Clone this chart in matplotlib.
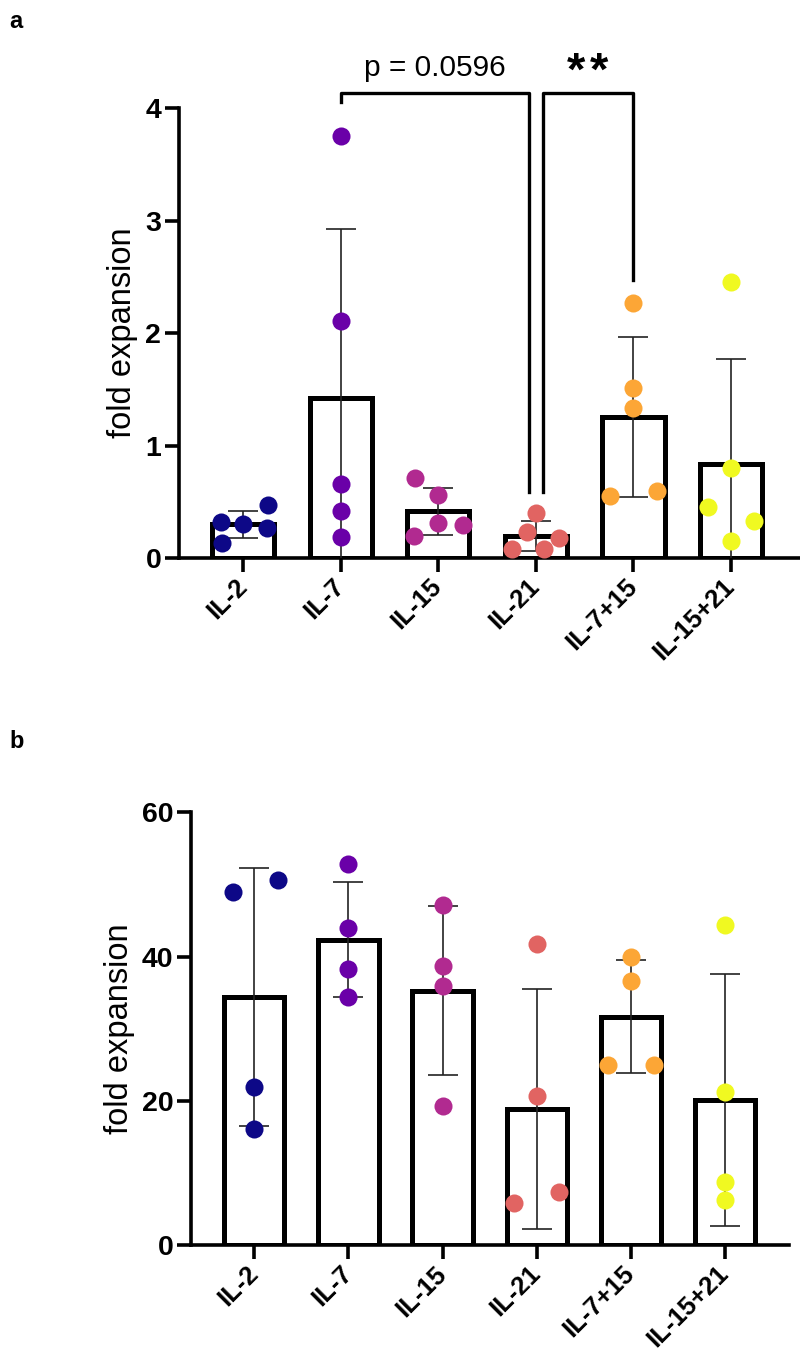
import numpy as np
import matplotlib
matplotlib.use("Agg")
import matplotlib.pyplot as plt

plt.rcParams['font.family'] = ['Liberation Sans', 'DejaVu Sans']

# categorias y colores
categorias = ['IL-2', 'IL-7', 'IL-15', 'IL-21', 'IL-7+15', 'IL-15+21']
colores = ['#0d0887', '#6a00a8', '#b12a90', '#e16462', '#fca636', '#f0f921']

# panel a: valores individuales y desplazamiento horizontal de cada punto
valores_a = [
    [0.32, 0.30, 0.47, 0.27, 0.13],
    [3.75, 2.11, 0.66, 0.42, 0.19],
    [0.71, 0.56, 0.31, 0.20, 0.29],
    [0.40, 0.23, 0.18, 0.08, 0.08],
    [2.27, 1.51, 1.33, 0.55, 0.60],
    [2.45, 0.80, 0.45, 0.33, 0.15],
]
jitter_a = [
    [-0.23, 0, 0.25, 0.24, -0.22],
    [0, 0, 0, 0, 0],
    [-0.24, 0, 0, -0.25, 0.25],
    [0, -0.09, 0.24, -0.24, 0.08],
    [0, 0, 0, -0.24, 0.24],
    [0, 0, -0.24, 0.24, 0],
]

# panel b
valores_b = [
    [50.6, 48.9, 21.9, 16.1],
    [52.8, 44.0, 38.2, 34.4],
    [47.2, 38.7, 35.9, 19.3],
    [41.7, 20.6, 7.4, 5.8],
    [40.0, 36.6, 25.0, 25.0],
    [44.3, 21.2, 8.7, 6.2],
]
jitter_b = [
    [0.25, -0.23, 0, 0],
    [0, 0, 0, 0],
    [0, 0, 0, 0],
    [0, 0, 0.24, -0.24],
    [0, 0, -0.24, 0.24],
    [0, 0, 0, 0],
]


def graficarPanel(ax, valores, jitter, yticks, ylim, xlim):
    x = np.arange(len(categorias))
    medias = [np.mean(v) for v in valores]
    sd = [np.std(v, ddof=1) for v in valores]
    ax.bar(x, medias, width=0.64, color='white', edgecolor='black', linewidth=3.6, zorder=2)
    ax.errorbar(x, medias, yerr=sd, fmt='none', ecolor='#222222', elinewidth=1.2,
                capsize=11, capthick=1.2, zorder=3)
    for i in range(len(categorias)):
        ax.plot(x[i] + np.array(jitter[i]), valores[i], 'o', color=colores[i],
                markersize=13, markeredgewidth=0, zorder=4, clip_on=False)
    ax.set_xlim(*xlim)
    ax.set_ylim(*ylim)
    ax.set_yticks(yticks)
    ax.set_yticklabels([str(t) for t in yticks], fontsize=20.5, fontweight='bold')
    ax.set_xticks(x)
    ax.set_xticklabels(categorias, fontsize=18.5, fontweight='bold', rotation=45,
                       ha='right', va='center', rotation_mode='anchor')
    ax.spines['top'].set_visible(False)
    ax.spines['right'].set_visible(False)
    for s in ['left', 'bottom']:
        ax.spines[s].set_linewidth(2.6)
    ax.tick_params(axis='both', length=10, width=2.6, pad=3)
    ax.tick_params(axis='x', pad=8)
    ax.set_ylabel('fold expansion', fontsize=23.5, labelpad=5)


fig = plt.figure(figsize=(8, 13.61), dpi=100)

axA = fig.add_axes([0.224, 0.590, 0.775, 0.3306])
graficarPanel(axA, valores_a, jitter_a, [0, 1, 2, 3, 4], (0, 4), (-0.656, 5.70))

# corchetes de significancia
lw = 2.4
axA.plot([1, 1, 2.93, 2.93], [4.05, 4.13, 4.13, 0.59], color='black', lw=lw, clip_on=False)
axA.plot([3.07, 3.07, 4, 4], [0.59, 4.13, 4.13, 2.47], color='black', lw=lw, clip_on=False)
axA.text(1.97, 4.36, 'p = 0.0596', fontsize=21.5, ha='center', va='center')
for xs in [3.41, 3.65]:
    axA.text(xs, 4.31, '*', fontsize=34, fontweight='bold', ha='center', va='center')

axB = fig.add_axes([0.239, 0.0852, 0.7475, 0.318])
graficarPanel(axB, valores_b, jitter_b, [0, 20, 40, 60], (0, 60), (-0.669, 5.68))

fig.text(0.012, 0.984, 'a', fontsize=17, fontweight='bold', va='center')
fig.text(0.012, 0.455, 'b', fontsize=17, fontweight='bold', va='center')

fig.savefig('out.png', dpi=100)
